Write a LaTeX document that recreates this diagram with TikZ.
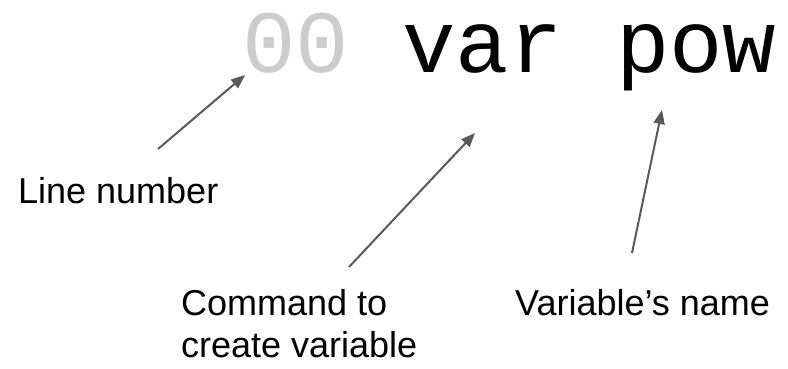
\documentclass[tikz,border=0pt]{standalone}
\usepackage{fontspec}
\setmainfont{Liberation Sans}
\newfontfamily\codefont{Liberation Mono}
\usetikzlibrary{arrows.meta}
\definecolor{zerogray}{HTML}{CCCCCC}
\definecolor{arrowgray}{HTML}{595959}
\tikzset{
  codetext/.style={inner sep=0pt, anchor=base west, font=\codefont\fontsize{89}{100}\selectfont},
  labeltext/.style={inner sep=0pt, anchor=base west, align=left, font=\fontsize{36}{42}\selectfont},
  pointer/.style={draw=arrowgray, line width=2pt, -{Triangle[length=14pt,width=11pt]}}
}
\begin{document}
\begin{tikzpicture}[x=1pt,y=-1pt]
\useasboundingbox (0,0) rectangle (788,368);
\node[codetext] (code) at (242,72) {\textcolor{zerogray}{00} var pow};
\node[labeltext] (linenum) at (18,203) {Line number};
\node[labeltext] (cmd) at (181,357) {Command to\\create variable};
\node[labeltext] (varname) at (515,315) {Variable’s name};
\coordinate (s1) at (158,149);
\coordinate (t1) at (245,75);
\coordinate (s2) at (349,267);
\coordinate (t2) at (475,133);
\coordinate (s3) at (632,253);
\coordinate (t3) at (662,110);
\draw[pointer] (s1) -- (t1);
\draw[pointer] (s2) -- (t2);
\draw[pointer] (s3) -- (t3);
\end{tikzpicture}
\end{document}
